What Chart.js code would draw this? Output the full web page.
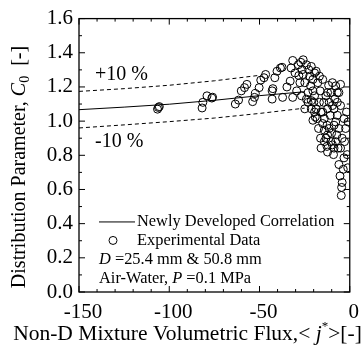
<!DOCTYPE html>
<html>
<head>
<meta charset="utf-8">
<script src="https://cdn.jsdelivr.net/npm/chart.js@4.4.0/dist/chart.umd.min.js"></script>
<style>
  html, body { margin: 0; padding: 0; background: #fff; }
  #wrap { width: 363px; height: 356px; }
</style>
</head>
<body>
<div id="wrap"><canvas id="c" width="363" height="356"></canvas></div>
<script>
const jFlux = [
  -106, -106.5, -105.5, -81.4, -81.8, -79.1, -76.4, -76,
  -63.4, -61.6, -60.1, -58.3, -57.0, -53.8, -52.8, -52.3, -50.2, -49.3, -47.5, -46.6,
  -43.0, -43.0, -42.6, -41.5, -40.3, -38.4, -37.5, -37.2, -34.8, -33.0, -32.5, -31.6,
  -31.6, -30.3, -29.4, -28.5, -28.2, -27.1, -26.7, -26.4, -25.8, -24.9, -24.0, -23.1,
  -22.7, -22.2, -21.7, -21.3, -20.4, -19.9, -19.5, -19.1, -18.6, -17.7, -16.8, -16.4,
  -15.9, -15.0, -14.1, -13.2, -12.6, -12.3, -11.7, -11.4, -10.8, -10.5, -10.1, -9.6,
  -9.0, -8.7, -8.3, -7.8, -7.2, -6.9, -6.5, -6.0, -5.4, -5.1, -4.7, -4.5,
  -4.2, -3.6, -3.2, -2.9, -2.3, -1.8, -1.4, -1.1, -0.9,
  -21.3, -20.4, -18.6, -18.1, -17.3, -16.8, -16.2, -15.9, -15.0, -14.4, -14.1, -13.2,
  -12.6, -12.3, -11.4, -10.5, -9.6, -8.7, -7.8, -6.9, -6.0, -5.1, -4.2, -3.2,
  -6.9, -5.1, -8.7, -12.3, -14.1, -19.5, -23.1, -24.9, -24.0, -27.6, -25.8, -21.3,
  -20.4, -19.5, -15.0, -12.3, -9.6, -7.8, -6.0
];
const c0 = [
  1.080, 1.070, 1.085, 1.110, 1.077, 1.148, 1.135, 1.140,
  1.100, 1.123, 1.177, 1.196, 1.215, 1.114, 1.139, 1.162, 1.196, 1.240, 1.254, 1.273,
  1.129, 1.177, 1.190, 1.254, 1.292, 1.311, 1.315, 1.139, 1.200, 1.234, 1.311, 1.355,
  1.139, 1.282, 1.177, 1.330, 1.267, 1.344, 1.148, 1.301, 1.359, 1.225, 1.330, 1.167,
  1.301, 1.263, 1.206, 1.120, 1.177, 1.110, 1.053, 1.024, 1.292, 1.225, 1.263, 1.177,
  1.053, 0.986, 0.947, 0.900, 0.852, 0.819, 1.209, 1.110, 1.034, 1.167, 0.928, 0.861,
  0.804, 1.072, 1.129, 0.995, 0.919, 1.167, 0.842, 0.746, 0.679, 1.215, 0.565, 0.612,
  0.641, 0.718, 0.785, 0.880, 0.957, 1.053, 0.804, 0.727, 0.995,
  1.072, 1.005, 1.072, 1.015, 0.957, 1.110, 0.900, 0.842, 1.053, 1.110, 1.015, 1.148,
  0.976, 1.072, 0.957, 0.880, 1.091, 0.976, 0.880, 1.034, 0.957, 1.091, 0.900, 1.015,
  1.110, 0.842, 0.842, 0.919, 0.880, 1.148, 1.110, 1.072, 1.129, 1.225, 1.273, 1.320,
  1.244, 1.282, 1.244, 1.167, 1.225, 1.206, 1.167
];

// correlation and +/-10 % bands
const corrJ = [-150, -125, -100, -75, -50, -25];
const corrC0 = [1.067, 1.082, 1.099, 1.122, 1.149, 1.172];
const upperJ = [-150, -125, -100, -75, -50];
const upperC0 = [1.174, 1.190, 1.210, 1.236, 1.268];
const lowerJ = [-150, -125, -100, -75, -50, -25];
const lowerC0 = [0.960, 0.978, 0.997, 1.018, 1.045, 1.076];

const xTicks = [-150, -100, -50, 0];
const yTicks = [0, 0.2, 0.4, 0.6, 0.8, 1.0, 1.2, 1.4, 1.6];

const SERIF = '"Liberation Serif", "Times New Roman", serif';

const pts = (xs, ys) => xs.map((x, i) => ({x: x, y: ys[i]}));

// draw a run of text pieces with mixed styles
function rich(ctx, parts, x, y, size) {
    ctx.textBaseline = 'middle';
    ctx.textAlign = 'left';
    let cx = x;
    parts.forEach(p => {
        const s = p.size || size;
        ctx.font = (p.italic ? 'italic ' : '') + s + 'px ' + SERIF;
        ctx.fillText(p.t, cx, y + (p.dy || 0));
        cx += ctx.measureText(p.t).width;
    });
    return cx - x;
}
function richWidth(ctx, parts, size) {
    let w = 0;
    parts.forEach(p => {
        ctx.font = (p.italic ? 'italic ' : '') + (p.size || size) + 'px ' + SERIF;
        w += ctx.measureText(p.t).width;
    });
    return w;
}

const decor = {
    id: 'decor',
    afterDraw(chart) {
        const ctx = chart.ctx;
        const a = chart.chartArea;
        const xs = chart.scales.x, ys = chart.scales.y;
        ctx.save();
        ctx.strokeStyle = '#000';
        ctx.fillStyle = '#000';

        // frame
        ctx.lineWidth = 1.3;
        ctx.strokeRect(a.left, a.top, a.right - a.left, a.bottom - a.top);

        // inward ticks on all four sides
        ctx.lineWidth = 1;
        ctx.beginPath();
        for (let v = -150; v <= 0; v += 10) {
            const px = xs.getPixelForValue(v);
            const len = (v % 50 === 0) ? 6 : 3;
            ctx.moveTo(px, a.bottom); ctx.lineTo(px, a.bottom - len);
            ctx.moveTo(px, a.top); ctx.lineTo(px, a.top + len);
        }
        for (let k = 0; k <= 16; k++) {
            const py = ys.getPixelForValue(k / 10);
            const len = (k % 2 === 0) ? 6 : 3;
            ctx.moveTo(a.left, py); ctx.lineTo(a.left + len, py);
            ctx.moveTo(a.right, py); ctx.lineTo(a.right - len, py);
        }
        ctx.stroke();

        // band labels
        ctx.font = '20px ' + SERIF;
        ctx.textBaseline = 'middle';
        ctx.fillText('+10 %', a.left + 16, ys.getPixelForValue(1.27));
        ctx.fillText('-10 %', a.left + 16, ys.getPixelForValue(0.88));

        // legend box
        const lx = a.left + 20;
        const ly = ys.getPixelForValue(0.41);
        ctx.lineWidth = 1;
        ctx.beginPath();
        ctx.moveTo(lx, ly); ctx.lineTo(lx + 36, ly);
        ctx.stroke();
        rich(ctx, [{t: 'Newly Developed Correlation'}], lx + 38, ly, 16.4);
        const ly2 = ly + 18.5;
        ctx.beginPath();
        ctx.arc(lx + 14, ly2, 4, 0, Math.PI * 2);
        ctx.stroke();
        rich(ctx, [{t: 'Experimental Data'}], lx + 38, ly2, 16.4);
        rich(ctx, [{t: 'D', italic: true}, {t: ' =25.4 mm & 50.8 mm'}], lx, ly2 + 19, 16.4);
        rich(ctx, [{t: 'Air-Water, '}, {t: 'P', italic: true}, {t: ' =0.1 MPa'}], lx, ly2 + 38, 16.4);

        // x axis title
        const xt = [
            {t: 'Non-D Mixture Volumetric Flux,< '},
            {t: 'j', italic: true},
            {t: '*', size: 13, dy: -7},
            {t: '>[-]'}
        ];
        const xw = richWidth(ctx, xt, 21.5);
        rich(ctx, xt, 187.5 - xw / 2, 334, 21.5);

        // y axis title, rotated
        const yt = [
            {t: 'Distribution Parameter, '},
            {t: 'C', italic: true},
            {t: '0', size: 14, dy: 5},
            {t: '  [-]'}
        ];
        const yw = richWidth(ctx, yt, 20);
        ctx.translate(20, 167);
        ctx.rotate(-Math.PI / 2);
        rich(ctx, yt, -yw / 2, 0, 20);
        ctx.restore();
    }
};

new Chart(document.getElementById('c'), {
    type: 'scatter',
    data: {
        datasets: [
            {
                label: 'Newly Developed Correlation',
                data: pts(corrJ, corrC0),
                showLine: true,
                borderColor: '#000',
                borderWidth: 1,
                pointRadius: 0,
                order: 2
            },
            {
                label: '+10 %',
                data: pts(upperJ, upperC0),
                showLine: true,
                borderColor: '#000',
                borderWidth: 1,
                borderDash: [4, 3],
                pointRadius: 0,
                order: 2
            },
            {
                label: '-10 %',
                data: pts(lowerJ, lowerC0),
                showLine: true,
                borderColor: '#000',
                borderWidth: 1,
                borderDash: [4, 3],
                pointRadius: 0,
                order: 2
            },
            {
                label: 'Experimental Data',
                data: pts(jFlux, c0),
                pointStyle: 'circle',
                pointRadius: 4,
                borderWidth: 1,
                borderColor: '#000',
                backgroundColor: 'rgba(0,0,0,0)',
                order: 1
            }
        ]
    },
    options: {
        responsive: false,
        animation: false,
        events: [],
        layout: {padding: {top: 14, right: 7, left: 0, bottom: 0}},
        plugins: {legend: {display: false}, tooltip: {enabled: false}},
        scales: {
            x: {
                type: 'linear',
                min: -150,
                max: 0,
                afterFit: s => { s.height = 64; },
                afterBuildTicks: s => { s.ticks = xTicks.map(v => ({value: v})); },
                grid: {display: false, drawTicks: false},
                border: {display: false},
                ticks: {
                    color: '#000',
                    padding: 8,
                    labelOffset: 4,
                    font: {family: SERIF, size: 21},
                    callback: v => String(v)
                }
            },
            y: {
                type: 'linear',
                min: 0,
                max: 1.6,
                afterFit: s => { s.width = 79; },
                afterBuildTicks: s => { s.ticks = yTicks.map(v => ({value: v})); },
                grid: {display: false, drawTicks: false},
                border: {display: false},
                ticks: {
                    color: '#000',
                    padding: 6,
                    font: {family: SERIF, size: 21},
                    callback: v => v.toFixed(1)
                }
            }
        }
    },
    plugins: [decor]
});
</script>
</body>
</html>
